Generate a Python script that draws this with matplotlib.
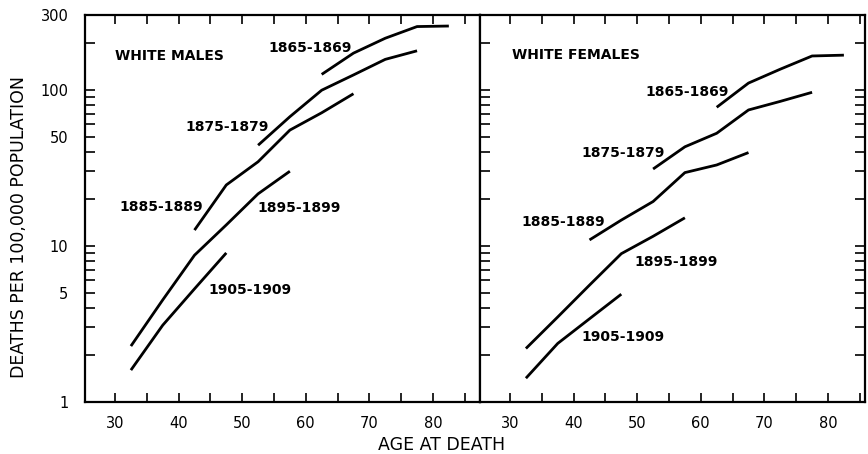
import matplotlib
matplotlib.use("Agg")
import matplotlib.pyplot as plt
from matplotlib.ticker import FixedLocator, NullLocator

# ---------------- data ----------------
cohorts = ["1865-1869", "1875-1879", "1885-1889", "1895-1899", "1905-1909"]

ages_1865 = [62.5, 67.5, 72.5, 77.5, 82.5]
ages_1875 = [52.5, 57.5, 62.5, 67.5, 72.5, 77.5]
ages_1885 = [42.5, 47.5, 52.5, 57.5, 62.5, 67.5]
ages_1895 = [32.5, 37.5, 42.5, 47.5, 52.5, 57.5]
ages_1905 = [32.5, 37.5, 42.5, 47.5]

male_1865 = [125, 171, 213, 253, 255]
male_1875 = [44, 67, 99, 124, 156, 177]
male_1885 = [12.6, 24.5, 34.5, 55, 71, 94]
male_1895 = [2.28, 4.5, 8.7, 13.6, 21.5, 30]
male_1905 = [1.6, 3.1, 5.3, 9.0]

female_1865 = [77, 110, 135, 164, 166]
female_1875 = [31, 43, 52.5, 74, 84, 96]
female_1885 = [10.9, 14.6, 19.2, 29.4, 32.9, 39.5]
female_1895 = [2.2, 3.5, 5.6, 8.9, 11.5, 15.1]
female_1905 = [1.42, 2.37, 3.41, 4.9]

panel_titles = ["WHITE MALES", "WHITE FEMALES"]
x_ticks = [30, 35, 40, 45, 50, 55, 60, 65, 70, 75, 80, 85]
x_tick_labels = ["30", "", "40", "", "50", "", "60", "", "70", "", "80", ""]
y_ticks = [1, 2, 3, 4, 5, 6, 7, 8, 9, 10, 20, 30, 40, 50, 60, 70, 80, 90, 100, 200, 300]
y_tick_labels = ["1", "", "", "", "5", "", "", "", "", "10", "", "", "", "50", "",
                 "", "", "", "100", "", "300"]
x_label = "AGE AT DEATH"
y_label = "DEATHS PER 100,000 POPULATION"

# ---------------- figure ----------------
W, H = 868, 454
fig = plt.figure(figsize=(W / 100, H / 100), dpi=100)
fig.patch.set_facecolor("white")

top_px, bot_px = 15, 402
axL = fig.add_axes([85 / W, (H - bot_px) / H, (480 - 85) / W, (bot_px - top_px) / H])
axR = fig.add_axes([480 / W, (H - bot_px) / H, (865 - 480) / W, (bot_px - top_px) / H])

male_series = [(ages_1865, male_1865), (ages_1875, male_1875), (ages_1885, male_1885),
               (ages_1895, male_1895), (ages_1905, male_1905)]
female_series = [(ages_1865, female_1865), (ages_1875, female_1875), (ages_1885, female_1885),
                 (ages_1895, female_1895), (ages_1905, female_1905)]

for ax, series in ((axL, male_series), (axR, female_series)):
    for a, v in series:
        ax.plot(a, v, color="black", lw=2.0, solid_capstyle="butt")
    ax.set_yscale("log")
    ax.set_ylim(1, 300)
    ax.yaxis.set_major_locator(FixedLocator(y_ticks))
    ax.yaxis.set_minor_locator(NullLocator())
    ax.set_xticks(x_ticks)
    ax.xaxis.set_minor_locator(NullLocator())
    ax.set_xticklabels(x_tick_labels, fontsize=10.5)
    ax.tick_params(axis="x", direction="in", top=True, bottom=True, length=6.5,
                   width=1.2, pad=10)
    for s in ax.spines.values():
        s.set_linewidth(1.6)

axL.set_xlim(25.28, 87.4)
axR.set_xlim(25.28, 85.82)

axL.set_yticklabels(y_tick_labels, fontsize=10.5)
axL.tick_params(axis="y", direction="in", left=True, right=False, length=7, width=1.2,
                pad=12)
axR.set_yticklabels([""] * len(y_ticks))
axR.tick_params(axis="y", direction="in", left=True, right=True, labelleft=False,
                length=7, width=1.2)

# panel titles
axL.text(30.0, 164, panel_titles[0], fontsize=10, fontweight="bold", ha="left", va="center")
axR.text(30.27, 167, panel_titles[1], fontsize=10, fontweight="bold", ha="left", va="center")

# cohort labels
male_label_pos = [(60.66, 184), (47.7, 57.4), (37.3, 17.6), (58.9, 17.4), (51.2, 5.2)]
female_label_pos = [(57.9, 97), (47.8, 39.1), (38.4, 14.1), (56.07, 7.9), (47.77, 2.62)]
for lbl, (x, y) in zip(cohorts, male_label_pos):
    axL.text(x, y, lbl, fontsize=10, fontweight="bold", ha="center", va="center")
for lbl, (x, y) in zip(cohorts, female_label_pos):
    axR.text(x, y, lbl, fontsize=10, fontweight="bold", ha="center", va="center")

# axis labels
fig.text(441.5 / W, 1 - 445 / H, x_label, fontsize=12.5, ha="center", va="center")
fig.text(19 / W, 1 - 226.5 / H, y_label, fontsize=12.5, rotation=90, ha="center", va="center")

fig.savefig("out.png", dpi=100, facecolor="white")
